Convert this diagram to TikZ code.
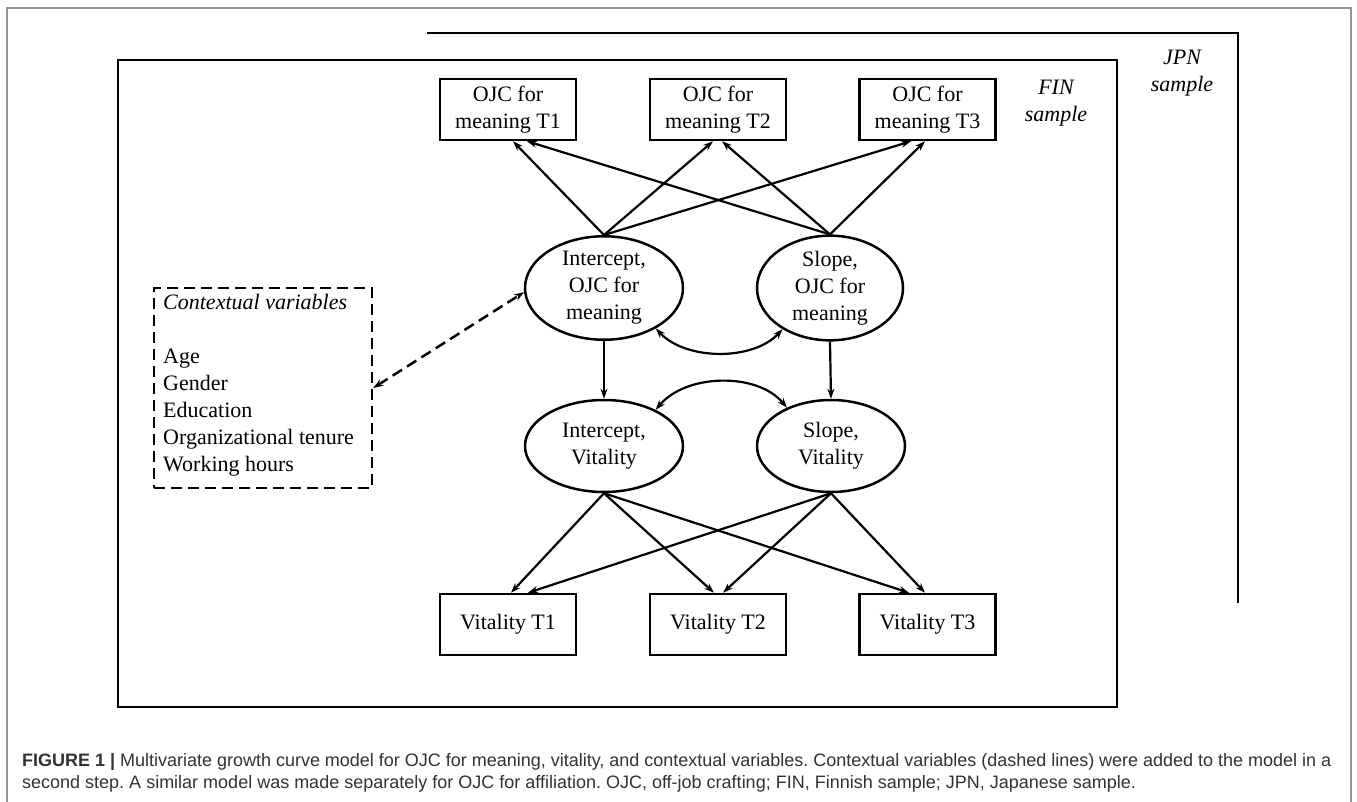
\documentclass[tikz,border=0pt]{standalone}
\usepackage{fontspec}
\setmainfont{Liberation Serif}
\newfontfamily\capfont{Liberation Sans}
\usetikzlibrary{arrows.meta,shapes.geometric}
\definecolor{capgray}{RGB}{50,50,50}
\definecolor{framegray}{RGB}{150,150,150}
\begin{document}
\frenchspacing
\begin{tikzpicture}[x=1pt,y=-1pt,
  box/.style={draw,line width=2.5pt,minimum width=136pt,minimum height=61pt,inner sep=0pt,align=center,font=\fontsize{22}{26.5}\selectfont},
  lat/.style={draw,ellipse,line width=2.5pt,inner sep=0pt,align=center,font=\fontsize{22}{27}\selectfont},
  arr/.style={line width=2.2pt,-{Stealth[length=10pt,width=7pt]}},
  darr/.style={line width=2.2pt,{Stealth[length=10pt,width=7pt]}-{Stealth[length=10pt,width=7pt]}},
  dsh/.style={line width=2.5pt,dash pattern=on 11pt off 6pt},
  lbl/.style={align=center,inner sep=0pt,font=\fontsize{22}{27}\selectfont\itshape},
  captext/.style={anchor=base west,inner sep=0pt,text=capgray,font=\capfont\fontsize{18}{22}\selectfont}
]
\useasboundingbox (0,0) rectangle (1357,802);
\fill[white] (0,0) rectangle (1357,802);
% outer frame
\draw[framegray,line width=1.5pt] (7,803) -- (7,8) -- (1351,8) -- (1351,803);
% JPN bracket and FIN frame
\draw[line width=2.5pt] (427,33) -- (1238,33) -- (1238,603);
\draw[line width=2.5pt] (118,60) rectangle (1117,707);
\node[lbl] (fin) at (1056,103.5) {FIN\\sample};
\node[lbl] (jpn) at (1182,73.5) {JPN\\sample};
% observed meaning
\node[box] (t1) at (508,109.5) {OJC for\\meaning T1};
\node[box] (t2) at (718,109.5) {OJC for\\meaning T2};
\node[box] (t3) at (927.5,109.5) {OJC for\\meaning T3};
% latent
\node[lat,minimum width=158pt,minimum height=90pt] (io) at (604,288) {Intercept,\\OJC for\\meaning};
\node[lat,minimum width=146pt,minimum height=90pt] (so) at (830,288) {Slope,\\OJC for\\meaning};
\node[lat,minimum width=158pt,minimum height=92pt] (iv) at (604,446) {Intercept,\\Vitality};
\node[lat,minimum width=148pt,minimum height=92pt] (sv) at (831,446) {Slope,\\Vitality};
% observed vitality
\node[box] (v1) at (508,624.5) {Vitality T1};
\node[box] (v2) at (718,624.5) {Vitality T2};
\node[box] (v3) at (927.5,624.5) {Vitality T3};
% contextual
\node[draw,dsh,minimum width=218pt,minimum height=200pt,inner sep=0pt] (ctx) at (263,388) {};
\node[anchor=north west,align=left,inner sep=0pt,font=\fontsize{22}{27}\selectfont] (ctxt) at (163,294)
  {\textit{Contextual variables}\\ \mbox{}\\ Age\\ Gender\\ Education\\ Organizational tenure\\ Working hours};
% arrows up to meaning indicators
\draw[arr] (io.north) -- ([xshift=5pt]t1.south);
\draw[arr] (io.north) -- ([xshift=-5pt]t2.south);
\draw[arr] (io.north) -- ([xshift=-16.5pt]t3.south);
\draw[arr] (so.north) -- ([xshift=19pt]t1.south);
\draw[arr] (so.north) -- ([xshift=4pt]t2.south);
\draw[arr] (so.north) -- ([xshift=-2.5pt]t3.south);
% vertical paths
\draw[arr] (io.south) -- (iv.north);
\draw[arr] (so.south) -- (sv.north);
% covariances
\draw[darr] (io.-38) .. controls +(30,32) and +(-30,32) .. (so.-139);
\draw[darr] (iv.35) .. controls +(30,-36) and +(-30,-36) .. (sv.139);
% arrows to vitality indicators
\draw[arr] (iv.south) -- ([xshift=3pt]v1.north);
\draw[arr] (iv.south) -- ([xshift=-4pt]v2.north);
\draw[arr] (iv.south) -- ([xshift=-18.5pt]v3.north);
\draw[arr] (sv.south) -- ([xshift=20pt]v1.north);
\draw[arr] (sv.south) -- ([xshift=5pt]v2.north);
\draw[arr] (sv.south) -- ([xshift=-2.5pt]v3.north);
% dashed contextual path
\draw[darr,dsh,line width=2.5pt] (ctx.east) -- (io.183);
% caption
\node[captext] (cap1) at (22,766) {\makebox[1309pt][s]{\textbf{FIGURE 1 |} Multivariate growth curve model for OJC for meaning, vitality, and contextual variables. Contextual variables (dashed lines) were added to the model in a}};
\node[captext] (cap2) at (22,788) {second step. A similar model was made separately for OJC for affiliation. OJC, off-job crafting; FIN, Finnish sample; JPN, Japanese sample.};
\end{tikzpicture}
\end{document}
